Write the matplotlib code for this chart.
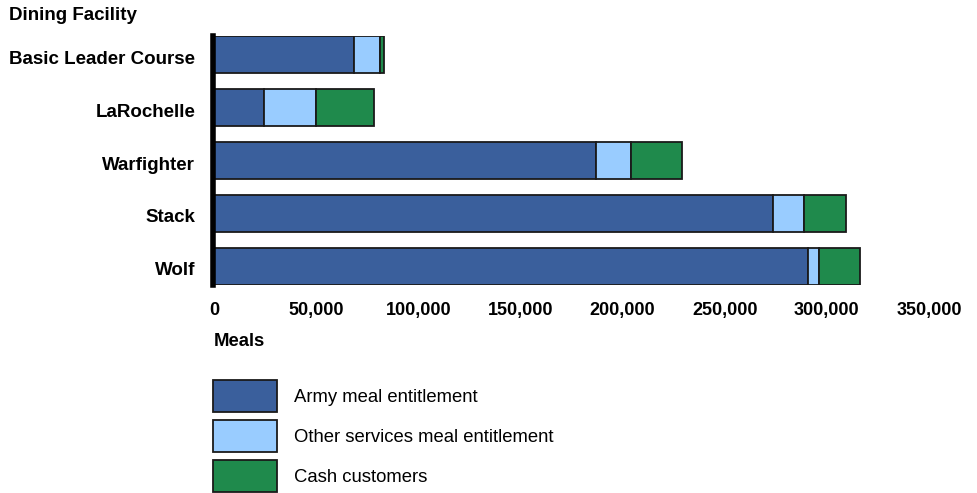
import matplotlib
matplotlib.use("Agg")
import matplotlib.pyplot as plt
from matplotlib.patches import Rectangle
from matplotlib.ticker import FuncFormatter, MultipleLocator
from matplotlib.transforms import ScaledTranslation

facilities = ["Basic Leader Course", "LaRochelle", "Warfighter", "Stack", "Wolf"]
army = [68700, 24500, 187000, 273800, 290700]
other = [12700, 25400, 17100, 15100, 5400]
cash = [2000, 28600, 25000, 20300, 20200]
series_labels = ["Army meal entitlement", "Other services meal entitlement", "Cash customers"]
colors = ["#3A5F9C", "#99CCFF", "#1F8A4C"]

plt.rcParams["font.family"] = ["Liberation Sans", "DejaVu Sans"]

fig = plt.figure(figsize=(9.77, 4.93), dpi=100)
W, H = 977, 493
ax = fig.add_axes([214 / W, 1 - 285 / H, (929 - 214) / W, (285 - 36) / H])

for s in ["top", "right", "bottom"]:
    ax.spines[s].set_visible(False)
ax.spines["left"].set_position(("outward", 1))
ax.spines["left"].set_linewidth(4)
ax.spines["left"].set_color("black")

y = list(range(len(facilities)))
left = [0] * len(facilities)
for vals, lab, col in zip([army, other, cash], series_labels, colors):
    ax.barh(y, vals, left=left, height=0.7, color=col, edgecolor="#1a1a1a",
            linewidth=1.3, label=lab, zorder=2)
    left = [a + b for a, b in zip(left, vals)]

ax.set_xlim(0, 350000)
ax.set_ylim(4.35, -0.35)
ax.set_yticks(y)
ax.set_yticklabels(facilities)
ax.xaxis.set_major_locator(MultipleLocator(50000))
ax.xaxis.set_major_formatter(FuncFormatter(lambda v, p: f"{int(v):,}"))
ax.tick_params(axis="y", length=0, pad=12.5)
ax.tick_params(axis="x", length=0, pad=12)
shift = ScaledTranslation(0, -2.5 / 100, fig.dpi_scale_trans)
for t in ax.get_yticklabels():
    t.set_fontweight("bold")
    t.set_fontsize(13.5)
    t.set_transform(t.get_transform() + shift)
for t in ax.get_xticklabels():
    t.set_fontweight("bold")
    t.set_fontsize(13)

fig.text(9 / W, 1 - 15 / H, "Dining Facility", fontsize=13.5, fontweight="bold",
         va="center", ha="left")
fig.text(214 / W, 1 - 341 / H, "Meals", fontsize=13.3, fontweight="bold",
         va="center", ha="left")

# legend drawn manually in figure pixel positions
for i, (lab, col) in enumerate(zip(series_labels, colors)):
    top = 380 + 40 * i
    fig.add_artist(Rectangle((213 / W, 1 - (top + 32) / H), 64 / W, 32 / H,
                             transform=fig.transFigure, facecolor=col,
                             edgecolor="#1a1a1a", linewidth=1.3))
    fig.text(294 / W, 1 - (top + 18) / H, lab, fontsize=13.3, va="center", ha="left")

fig.savefig("out.png", dpi=100)
